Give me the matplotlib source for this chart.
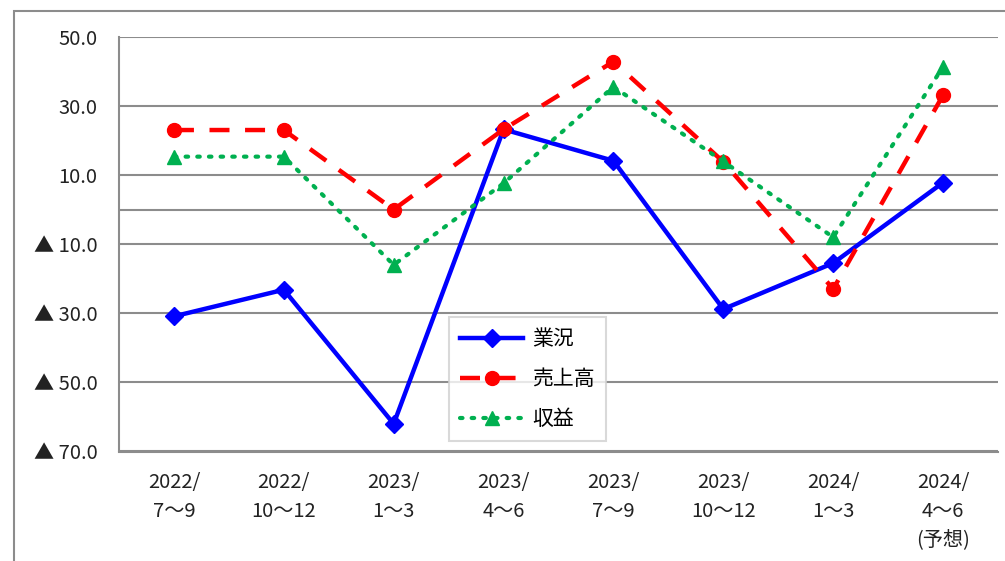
import matplotlib
matplotlib.use("Agg")
import matplotlib.pyplot as plt
from matplotlib.patches import Rectangle

plt.rcParams['font.family'] = ['Noto Sans CJK JP', 'DejaVu Sans']

categories = ["2022/\n7～9", "2022/\n10～12", "2023/\n1～3", "2023/\n4～6",
              "2023/\n7～9", "2023/\n10～12", "2024/\n1～3", "2024/\n4～6\n(予想)"]
gyokyo = [-30.9, -23.2, -62.0, 23.2, 14.1, -28.8, -15.5, 7.8]
uriage = [23.0, 23.0, 0.0, 23.2, 42.8, 13.8, -23.0, 33.1]
shueki = [15.3, 15.3, -16.0, 7.6, 35.5, 13.9, -8.0, 41.3]
series_names = ["業況", "売上高", "収益"]
yticks = [50, 30, 10, -10, -30, -50, -70]

W, H = 1005, 561
fig = plt.figure(figsize=(W / 100, H / 100), dpi=100)
fig.patches.append(Rectangle((14 / W, -0.1), 1.2, 1 - 11 / H + 0.1, transform=fig.transFigure,
                             fill=False, edgecolor='#8c8c8c', linewidth=1.5))

ax = fig.add_axes([119 / W, 1 - 451.5 / H, (998 - 119) / W, (451.5 - 36.7) / H])
x = [i + 0.5 for i in range(len(categories))]

ax.plot(x, gyokyo, color='#0000FF', lw=3.2, marker='D', markersize=9, label=series_names[0], zorder=3)
ax.plot(x, uriage, color='#FF0000', lw=3.2, ls=(0, (4.5, 3.5)), marker='o', markersize=10,
        label=series_names[1], zorder=4)
ax.plot(x, shueki, color='#00B050', lw=3.0, ls=(0, (0.6, 2.2)), dash_capstyle='round',
        marker='^', markersize=10, label=series_names[2], zorder=5)

ax.set_xlim(0, 8)
ax.set_ylim(-70, 50)
ax.set_yticks(yticks)
ax.set_yticklabels([f"{v:.1f}" if v > 0 else f"▲ {abs(v):.1f}" for v in yticks])
for yv in yticks + [0]:
    ax.axhline(yv, color='#8c8c8c', lw=1.5, zorder=1)
ax.set_xticks(x)
ax.set_xticklabels(categories, linespacing=1.45)
ax.tick_params(axis='both', length=0, labelsize=14.5, colors='#222222')
ax.tick_params(axis='y', pad=15.5)
ax.tick_params(axis='x', pad=15)
for s in ['top', 'right']:
    ax.spines[s].set_visible(False)
for s in ['left', 'bottom']:
    ax.spines[s].set_color('#8c8c8c')
    ax.spines[s].set_linewidth(1.5)

leg = ax.legend(loc='upper left', bbox_to_anchor=((449 - 119) / 879, (451.5 - 317) / 414.8),
                borderaxespad=0, fontsize=15, frameon=True, fancybox=False, edgecolor='#d0d0d0',
                handlelength=3.0, labelspacing=0.85, borderpad=0.55, handletextpad=0.45)
leg.get_frame().set_linewidth(1.5)

fig.savefig("out.png", dpi=100)
